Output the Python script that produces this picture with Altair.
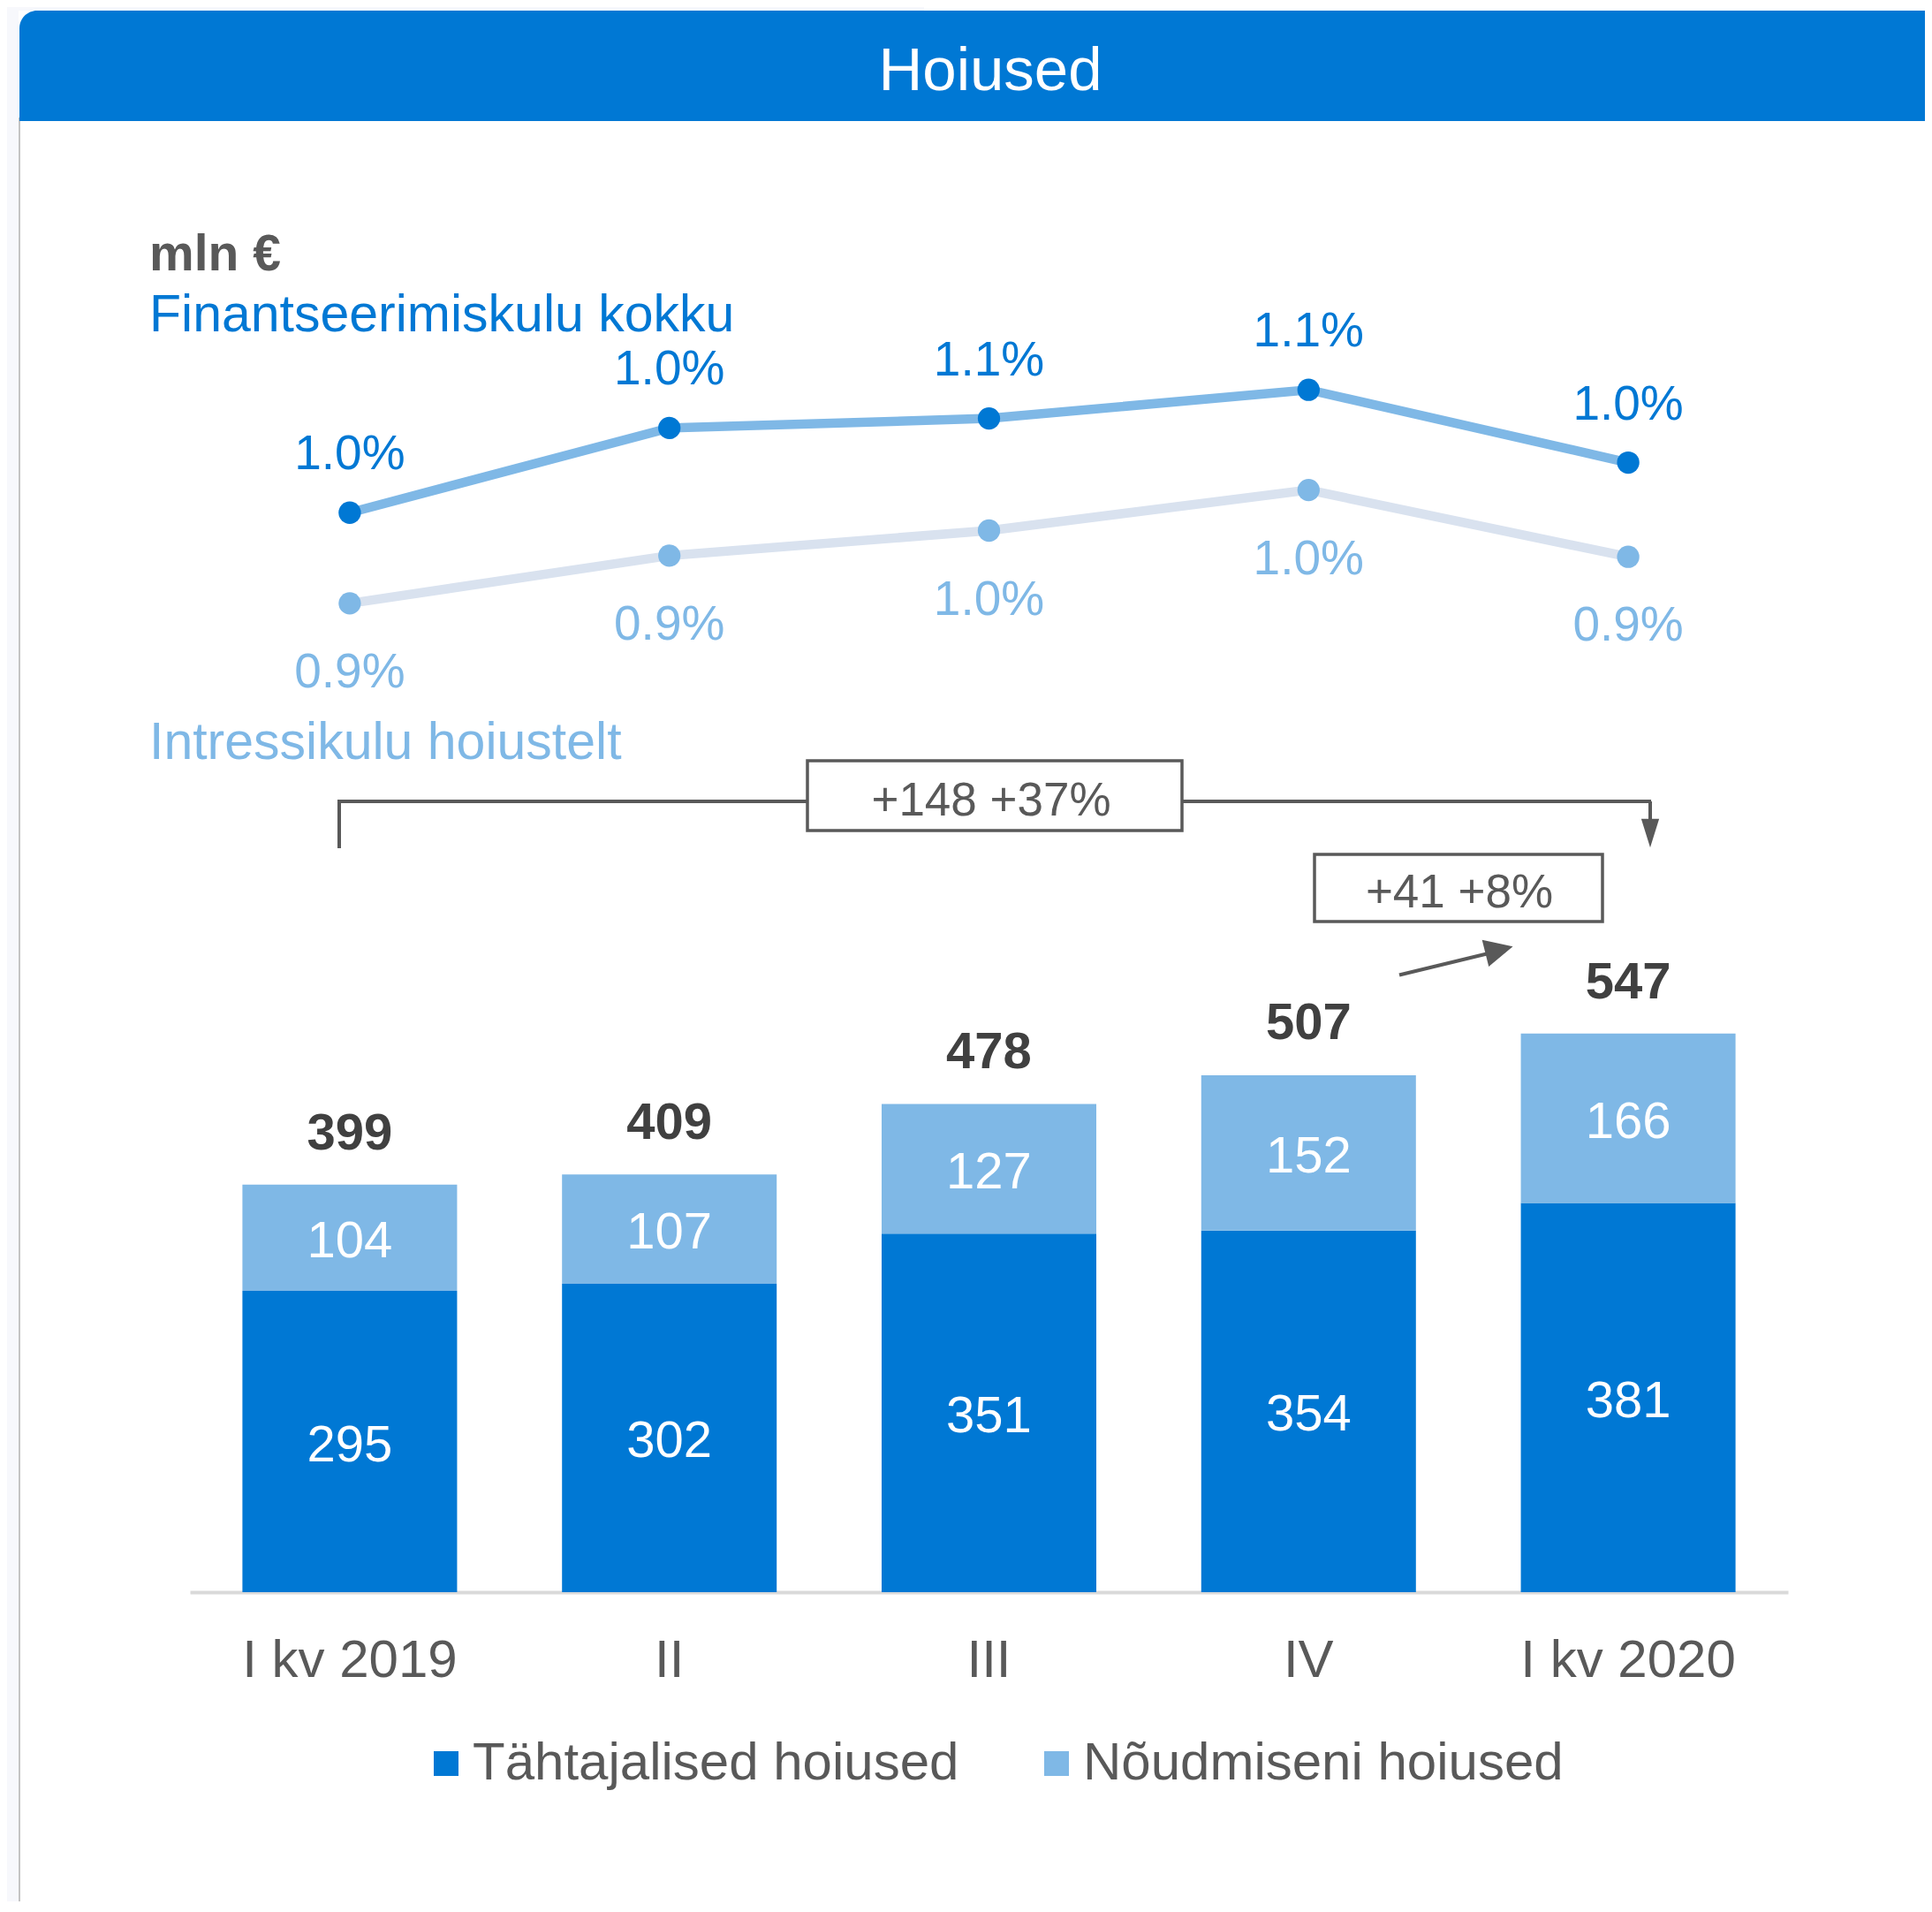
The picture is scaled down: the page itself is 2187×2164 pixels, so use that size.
import altair as alt
import pandas as pd

# ---------------- data ----------------
quarters = ["I kv 2019", "II", "III", "IV", "I kv 2020"]
tahtajalised = [295, 302, 351, 354, 381]
noudmiseni = [104, 107, 127, 152, 166]
totals = [399, 409, 478, 507, 547]
finants_rate = [0.975, 1.046, 1.054, 1.078, 1.017]
intressi_rate = [0.899, 0.939, 0.960, 0.994, 0.938]
series_bar = ["Tähtajalised hoiused", "Nõudmiseni hoiused"]
series_line = ["Finantseerimiskulu kokku", "Intressikulu hoiustelt"]
header_title = "Hoiused"
unit_label = "mln €"
change_total = "+148 +37%"
change_quarter = "+41 +8%"

# ---------------- style ----------------
DARK_BLUE = "#0078D4"
LIGHT_BLUE = "#7FB8E6"
PALE = "#D9E2EF"
GREY = "#595959"
DARK = "#404040"
FONT = "Liberation Sans"
W, H = 2171, 1794

# ---------------- tables ----------------
bar_rows = []
for i, q in enumerate(quarters):
    a, b = tahtajalised[i], noudmiseni[i]
    bar_rows.append({"quarter": q, "series": series_bar[0], "value": a, "rank": 0, "mid": a / 2})
    bar_rows.append({"quarter": q, "series": series_bar[1], "value": b, "rank": 1, "mid": a + b / 2})
bars_df = pd.DataFrame(bar_rows)
tot_df = pd.DataFrame({"quarter": quarters, "total": totals})

line_rows = []
for i, q in enumerate(quarters):
    line_rows.append({"quarter": q, "series": series_line[0], "rate": finants_rate[i]})
    line_rows.append({"quarter": q, "series": series_line[1], "rate": intressi_rate[i]})
line_df = pd.DataFrame(line_rows)

one = pd.DataFrame({"a": [0]})

xscale = alt.Scale(domain=quarters, range=[207, 2016], paddingInner=0.3283, paddingOuter=0.1642)
xaxis = alt.Axis(labelFontSize=60, labelColor=GREY, labelFont=FONT, domainColor="#D9D9D9",
                 domainWidth=4, ticks=False, tickSize=0, labelPadding=77, labelBaseline="middle",
                 labelAngle=0, grid=False, title=None, labelLimit=1000)
X = alt.X("quarter:N", sort=quarters, scale=xscale, axis=xaxis, title=None)
ybar = alt.Scale(domain=[0, 1552], nice=False, zero=True)
yline = alt.Scale(domain=[0.07, 1.398889], nice=False, zero=False)

base1 = alt.Chart(one)


def rule(x1, y1, x2, y2, color=GREY, w=4):
    return base1.mark_rule(color=color, strokeWidth=w).encode(
        x=alt.value(x1), y=alt.value(y1), x2=alt.value(x2), y2=alt.value(y2))


def label(txt, x, y, size, color, weight="normal", align="left"):
    return base1.mark_text(text=txt, fontSize=size, color=color, font=FONT, fontWeight=weight,
                           align=align, baseline="middle").encode(x=alt.value(x), y=alt.value(y))


# ---------------- decorations ----------------
left_strip = base1.mark_rect(color="#F7F8FC").encode(
    x=alt.value(0), x2=alt.value(13), y=alt.value(0), y2=alt.value(2148))
top_strip = base1.mark_rect(color="#F7F8FC").encode(
    x=alt.value(0), x2=alt.value(1038), y=alt.value(0), y2=alt.value(4))
border = rule(14, 125, 14, 2148, color="#C4C4C4", w=2)
header = base1.mark_rect(color=DARK_BLUE, cornerRadiusTopLeft=20).encode(
    x=alt.value(14), x2=alt.value(W), y=alt.value(4), y2=alt.value(129))
header_txt = label(header_title, 1113, 73, 69, "white", align="center")

t_unit = label(unit_label, 161, 281, 57, GREY, weight="bold")
t_fin = label(series_line[0], 161, 349, 59, DARK_BLUE)
t_int = label(series_line[1], 161, 833, 59, LIGHT_BLUE)

# bracket (first quarter -> last quarter)
br_h = rule(374, 899, 1861, 899)
br_l = rule(376, 897, 376, 952)
br_r = rule(1860, 899, 1860, 921)
br_head = base1.mark_point(shape="M-0.62,-1L0.62,-1L0,1Z", filled=True, size=1069, color=GREY,
                           opacity=1, strokeWidth=0).encode(x=alt.value(1860), y=alt.value(935))
box1 = base1.mark_rect(fill="white", stroke=GREY, strokeWidth=3.5).encode(
    x=alt.value(906), x2=alt.value(1330), y=alt.value(853), y2=alt.value(932))
box1_txt = label(change_total, 1114, 899, 53, GREY, align="center")

# quarter change
ar_line = rule(1576, 1095.5, 1675, 1071.5)
ar_head = base1.mark_point(shape="M-1,-0.97L1,0L-1,0.97Z", filled=True, size=1024, color=GREY,
                           opacity=1, strokeWidth=0, angle=346).encode(x=alt.value(1689), y=alt.value(1067))
box2 = base1.mark_rect(fill="white", stroke=GREY, strokeWidth=3.5).encode(
    x=alt.value(1480), x2=alt.value(1806), y=alt.value(959), y2=alt.value(1035))
box2_txt = label(change_quarter, 1644, 1003, 53, GREY, align="center")

# ---------------- bars ----------------
bars = alt.Chart(bars_df).mark_bar().encode(
    x=X,
    y=alt.Y("value:Q", stack="zero", scale=ybar, axis=None),
    color=alt.Color("series:N", scale=alt.Scale(domain=series_bar, range=[DARK_BLUE, LIGHT_BLUE]),
                    legend=alt.Legend(orient="none", legendX=467, legendY=1958, direction="horizontal",
                                      title=None, symbolType="square", symbolSize=784,
                                      symbolStrokeWidth=0, symbolOpacity=1, labelFontSize=60,
                                      labelFont=FONT, labelColor=GREY, labelOffset=0,
                                      columnPadding=80, labelLimit=1000, padding=0)),
    order=alt.Order("rank:Q"),
)
seg_txt = alt.Chart(bars_df).mark_text(fontSize=58, color="white", font=FONT, baseline="middle",
                                       dy=5).encode(
    x=X, y=alt.Y("mid:Q", scale=ybar, axis=None), text=alt.Text("value:Q"))
tot_txt = alt.Chart(tot_df).mark_text(fontSize=58, color=DARK, font=FONT, fontWeight="bold",
                                      baseline="middle", dy=-57).encode(
    x=X, y=alt.Y("total:Q", scale=ybar, axis=None), text=alt.Text("total:Q"))

# ---------------- lines ----------------
lbase = alt.Chart(line_df).transform_calculate(lab="format(datum.rate, '.1f') + '%'")
lines = lbase.mark_line(strokeWidth=10.5).encode(
    x=X, y=alt.Y("rate:Q", scale=yline, axis=None),
    stroke=alt.Stroke("series:N", scale=alt.Scale(domain=series_line, range=[LIGHT_BLUE, PALE]),
                      legend=None),
)
pts = lbase.mark_circle(size=640, opacity=1).encode(
    x=X, y=alt.Y("rate:Q", scale=yline, axis=None),
    fill=alt.Fill("series:N", scale=alt.Scale(domain=series_line, range=[DARK_BLUE, LIGHT_BLUE]),
                  legend=None),
)
lab_top = lbase.transform_filter(alt.datum.series == series_line[0]).mark_text(
    fontSize=55, font=FONT, color=DARK_BLUE, baseline="middle", dy=-66).encode(
    x=X, y=alt.Y("rate:Q", scale=yline, axis=None), text="lab:N")
lab_bot = lbase.transform_filter(alt.datum.series == series_line[1]).mark_text(
    fontSize=55, font=FONT, color=LIGHT_BLUE, baseline="middle", dy=78).encode(
    x=X, y=alt.Y("rate:Q", scale=yline, axis=None), text="lab:N")

chart = alt.layer(
    left_strip, top_strip, border, header, header_txt,
    bars, seg_txt, tot_txt,
    lines, pts, lab_top, lab_bot,
    t_unit, t_fin, t_int,
    br_h, br_l, br_r, br_head, box1, box1_txt,
    ar_line, ar_head, box2, box2_txt,
).resolve_scale(y="independent").properties(
    width=W, height=H,
    autosize=alt.AutoSizeParams(type="none"),
    padding={"left": 0, "top": 0, "right": 0, "bottom": 350},
).configure(font=FONT, view=alt.ViewConfig(stroke="transparent", strokeWidth=0))

chart.save("out.html", embed_options={"renderer": "svg", "actions": False})
